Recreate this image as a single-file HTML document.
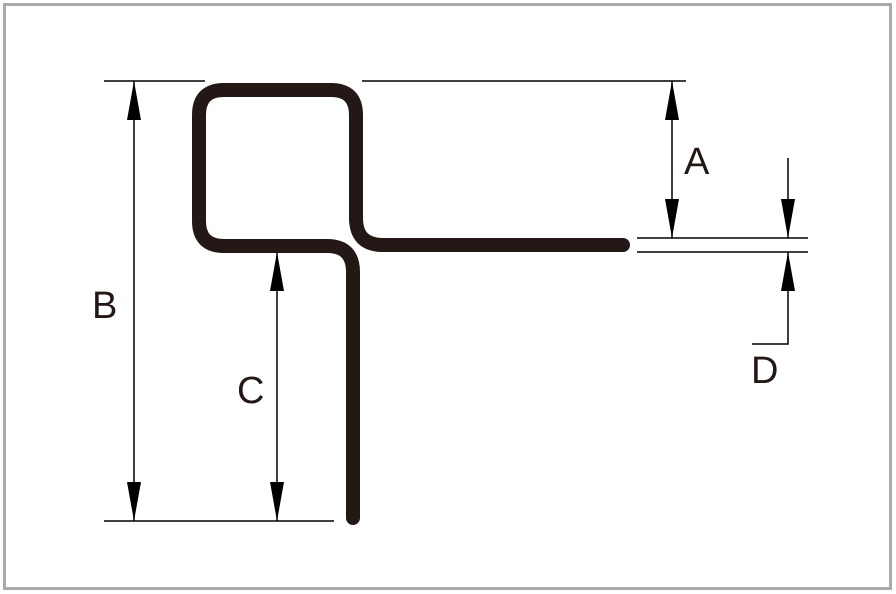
<!DOCTYPE html>
<html><head><style>html,body{margin:0;padding:0;background:#fff}svg{display:block}</style></head>
<body>
<svg width="896" height="594" viewBox="0 0 896 594" xmlns="http://www.w3.org/2000/svg">
<rect x="4.5" y="4.5" width="886" height="584" fill="#fff" stroke="#aaa" stroke-width="3"/>
<path d="M353,518 V272 Q353,246 327,246 H224 Q199,246 199,221 V115 Q199,90 224,90 H331 Q356,90 356,115 V218 Q356,245 383,245 H623" fill="none" stroke="#231815" stroke-width="14" stroke-linecap="round" stroke-linejoin="round"/>
<g stroke="#000" stroke-width="1.5" fill="none">
<line x1="104" y1="81" x2="205" y2="81"/>
<line x1="104" y1="521" x2="334" y2="521"/>
<line x1="362" y1="81" x2="686" y2="81"/>
<line x1="134" y1="81" x2="134" y2="521"/>
<line x1="672" y1="81" x2="672" y2="238"/>
<line x1="637" y1="238" x2="808" y2="238"/>
<line x1="637" y1="252" x2="808" y2="252"/>
<line x1="788" y1="158" x2="788" y2="238"/>
<polyline points="788,252 788,344 752,344"/>
<line x1="277" y1="252" x2="277" y2="521"/>
</g>
<g fill="#000">
<polygon points="134,81 127,120 141,120"/>
<polygon points="134,521 127,482 141,482"/>
<polygon points="672,81 665,120 679,120"/>
<polygon points="672,238 665,199 679,199"/>
<polygon points="788,238 781,199 795,199"/>
<polygon points="788,252 781,291 795,291"/>
<polygon points="277,252 270,291 284,291"/>
<polygon points="277,521 270,482 284,482"/>
</g>
<g font-family="Liberation Sans, sans-serif" font-size="38" fill="#231815">
<text x="684" y="174">A</text>
<text x="92" y="318">B</text>
<text x="237" y="403">C</text>
<text x="751" y="383">D</text>
</g>
</svg>
</body></html>
